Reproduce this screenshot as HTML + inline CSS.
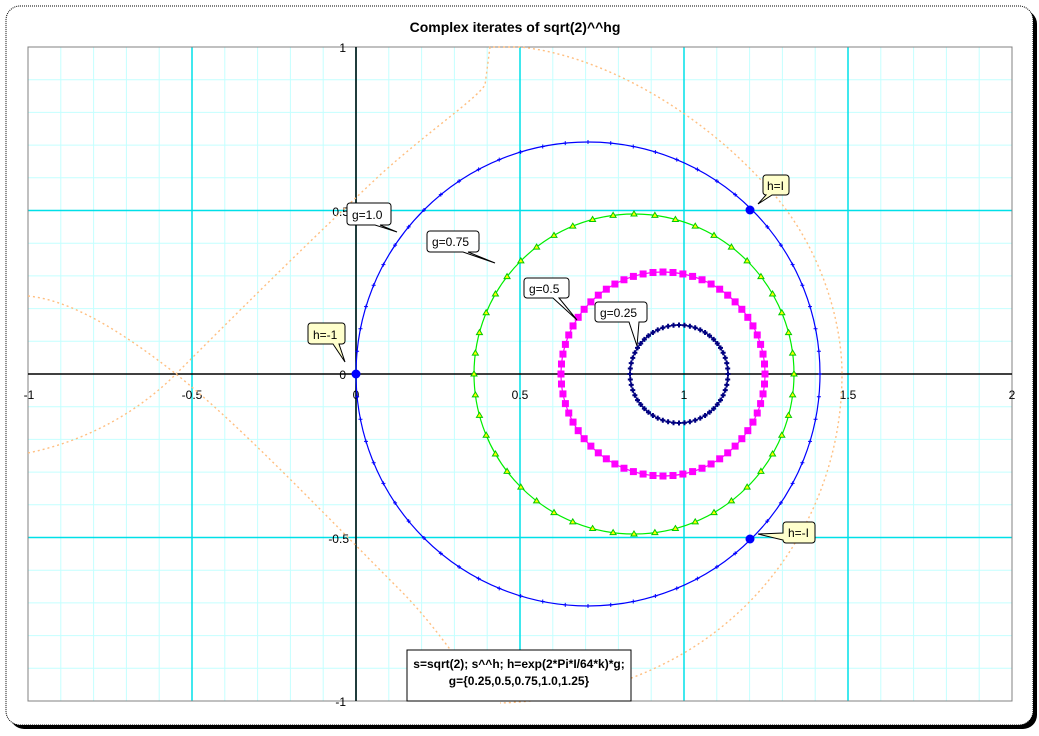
<!DOCTYPE html>
<html><head><meta charset="utf-8"><style>
body{margin:0;background:#fff;width:1039px;height:731px;overflow:hidden}
svg text{font-family:"Liberation Sans",sans-serif}
</style></head><body>
<svg id="s" width="1039" height="731" xmlns="http://www.w3.org/2000/svg">
<rect x="10" y="10" width="1027" height="719" rx="14" fill="#000"/>
<rect x="6" y="6" width="1027" height="719" rx="14" fill="#fff" stroke="#000" stroke-dasharray="1,1"/>
<text x="515" y="32" font-size="14" font-weight="bold" text-anchor="middle">Complex iterates of sqrt(2)^^hg</text>
<g id="grid"></g>
<rect x="28" y="47" width="984" height="654" fill="none" stroke="#808080" stroke-width="1"/>
<line x1="28" y1="374" x2="1012" y2="374" stroke="#000" stroke-width="1.5"/>
<line x1="356" y1="47" x2="356" y2="701" stroke="#000" stroke-width="1.5"/>
<g font-size="12" text-anchor="middle">
<text x="29" y="399">-1</text><text x="192" y="399">-0.5</text><text x="356" y="399">0</text>
<text x="520" y="399">0.5</text><text x="684" y="399">1</text><text x="848" y="399">1.5</text><text x="1012" y="399">2</text>
</g>
<g font-size="12" text-anchor="end">
<text x="346" y="52">1</text><text x="349" y="216">0.5</text><text x="346" y="379">0</text>
<text x="349" y="543">-0.5</text><text x="346" y="706">-1</text>
</g>
<g fill="none" stroke="#ffbf80" stroke-width="1.4" stroke-dasharray="2,3">
<path d="M28,453 C90,440 140,410 176,374 C230,320 300,250 380,175 C430,130 475,100 485,85 L490,47 L520,47 C600,55 700,110 770,190 C820,245 842,320 842,374 C842,470 800,560 730,620 C670,672 590,700 500,703"/>
<path d="M28,296 C70,300 120,330 176,374 C240,425 330,520 400,590 C440,630 470,680 490,701"/>
</g>
<g id="curves"></g>
<circle cx="356" cy="374" r="4.5" fill="#0000ff"/>
<circle cx="750" cy="210" r="4.5" fill="#0000ff"/>
<circle cx="750" cy="539" r="4.5" fill="#0000ff"/>
<g font-size="12" stroke="#000" stroke-width="1">
<path d="M350,203 h38 a3,3 0 0 1 3,3 v16 a3,3 0 0 1 -3,3 h-8 l17,7 l-22,-7 h-25 a3,3 0 0 1 -3,-3 v-16 a3,3 0 0 1 3,-3z" fill="#fff"/>
<path d="M430,231 h46 a3,3 0 0 1 3,3 v15 a3,3 0 0 1 -3,3 h-8 l27,11 l-32,-11 h-33 a3,3 0 0 1 -3,-3 v-15 a3,3 0 0 1 3,-3z" fill="#fff"/>
<path d="M527,278 h39 a3,3 0 0 1 3,3 v14 a3,3 0 0 1 -3,3 h-7 l18,22 l-24,-22 h-26 a3,3 0 0 1 -3,-3 v-14 a3,3 0 0 1 3,-3z" fill="#fff"/>
<path d="M598,302 h46 a3,3 0 0 1 3,3 v14 a3,3 0 0 1 -3,3 h-5 l-2,24 l-8,-24 h-31 a3,3 0 0 1 -3,-3 v-14 a3,3 0 0 1 3,-3z" fill="#fff"/>
<path d="M311,323 h31 a3,3 0 0 1 3,3 v15 a3,3 0 0 1 -3,3 h-3 l6,18 l-12,-18 h-22 a3,3 0 0 1 -3,-3 v-15 a3,3 0 0 1 3,-3z" fill="#ffffcc"/>
<path d="M766,175 h20 a3,3 0 0 1 3,3 v14 a3,3 0 0 1 -3,3 h-14 l-14,9 l8,-9 a3,3 0 0 1 -3,-3 v-14 a3,3 0 0 1 3,-3z" fill="#ffffcc"/>
<path d="M786,522 h26 a3,3 0 0 1 3,3 v15 a3,3 0 0 1 -3,3 h-26 a3,3 0 0 1 -3,-3 l-25,-6 l25,-1 v-8 a3,3 0 0 1 3,-3z" fill="#ffffcc"/>
<g stroke="none" fill="#000">
<text x="352" y="219">g=1.0</text><text x="432" y="246">g=0.75</text><text x="529" y="293">g=0.5</text>
<text x="600" y="317">g=0.25</text><text x="313" y="339">h=-1</text><text x="767" y="190">h=I</text><text x="788" y="537">h=-I</text>
</g></g>
<rect x="407" y="650" width="224" height="51" fill="#fff" stroke="#000"/>
<text x="519" y="668" font-size="12" font-weight="bold" text-anchor="middle">s=sqrt(2); s^^h; h=exp(2*Pi*I/64*k)*g;</text>
<text x="519" y="685" font-size="12" font-weight="bold" text-anchor="middle">g={0.25,0.5,0.75,1.0,1.25}</text>
</svg>
<script>
var NS="http://www.w3.org/2000/svg",g=document.getElementById("grid"),c=document.getElementById("curves");
function el(p,t,a){var e=document.createElementNS(NS,t);for(var k in a)e.setAttribute(k,a[k]);p.appendChild(e);return e;}
for(var i=0;i<=30;i++){var x=28+i*32.8;if(i%5)el(g,"line",{x1:x,y1:47,x2:x,y2:701,stroke:"#c4ffff"});}
for(var i=0;i<=20;i++){var y=47+i*32.7;if(i%5)el(g,"line",{x1:28,y1:y,x2:1012,y2:y,stroke:"#c4ffff"});}
for(var i=1;i<6;i++){var x=28+i*164;el(g,"line",{x1:x,y1:47,x2:x,y2:701,stroke:"#00e0e8","stroke-width":1.5});}
for(var i=1;i<4;i++){var y=47+i*163.5;if(i!=2)el(g,"line",{x1:28,y1:y,x2:1012,y2:y,stroke:"#00e0e8","stroke-width":1.5});}
var C=[[588,232,"#0000ff",64,"t"],[634,160,"#00ee00",48,"tri"],[663,102,"#ff00ff",64,"sq"],[679,49,"#000080",56,"plus"]];
C.forEach(function(q){
 el(c,"circle",{cx:q[0],cy:374,r:q[1],fill:"none",stroke:q[2],"stroke-width":1.2});
 for(var k=0;k<q[3];k++){var a=2*Math.PI*k/q[3],x=q[0]+q[1]*Math.cos(a),y=374-q[1]*Math.sin(a);
  if(q[4]=="sq")el(c,"rect",{x:x-3.5,y:y-3.5,width:7,height:7,fill:q[2]});
  else if(q[4]=="tri")el(c,"path",{d:"M"+x+","+(y-3)+"l3,5h-6z",fill:"#ffff00",stroke:"#00cc00","stroke-width":1});
  else if(q[4]=="plus")el(c,"path",{d:"M"+(x-2.5)+","+y+"h5M"+x+","+(y-2.5)+"v5",stroke:q[2],"stroke-width":2});
  else el(c,"path",{d:"M"+(x-2)+","+y+"h4M"+x+","+(y-2)+"v4",stroke:q[2],"stroke-width":1});
 }});
</script>
</body></html>
